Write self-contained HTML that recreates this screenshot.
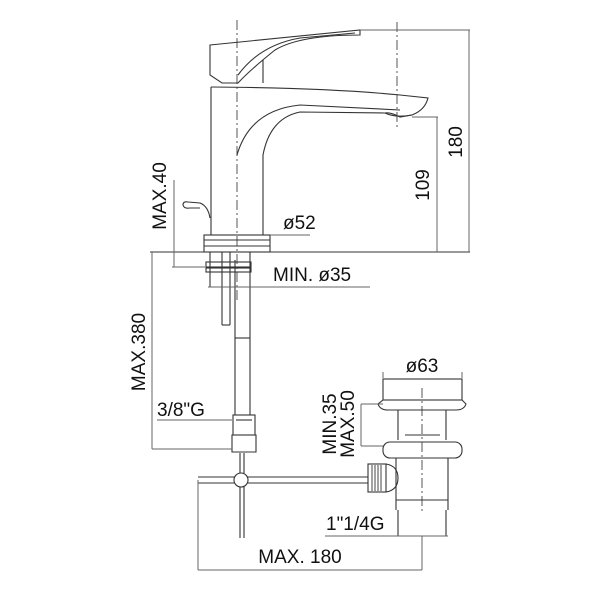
<!DOCTYPE html>
<html><head><style>
html,body{margin:0;padding:0;background:#fff;width:600px;height:600px;overflow:hidden}
svg text{font-family:"Liberation Sans",sans-serif;font-size:19px;fill:#111}
</style></head><body>
<svg width="600" height="600" viewBox="0 0 600 600" xmlns="http://www.w3.org/2000/svg">
<g fill="none" stroke="#333" stroke-width="1.1">
<line x1="237" y1="20" x2="237" y2="300" stroke-dasharray="10,3,2,3" stroke="#666"/>
<line x1="397" y1="22" x2="397" y2="130" stroke-dasharray="10,3,2,3" stroke="#666"/>
<line x1="422" y1="388" x2="422" y2="512" stroke-dasharray="10,3,2,3" stroke="#666"/>
<path d="M210,45 L360,30 L360,35 Q300,35 275,50 Q250,70 238,83 L222,83 L210,75 Z"/>
<path d="M238,75 Q260,45 300,38 L355,33"/>
<path d="M263,83 L263,60"/>
<path d="M211,87 L211,235"/>
<path d="M211,87 Q330,88 400,95 L428,98 Q425,110 412,115 L400,117 Q390,112 385,113 L300,112 Q270,118 263,155 L263,235"/>
<path d="M237,155 Q250,110 300,105 L400,110"/>
<path d="M385,113 Q395,118 412,115"/>
<path d="M183,205 Q183,201 188,202 L200,203 Q208,206 210,218"/>
<path d="M183,205 Q184,209 190,208 L200,208"/>
<rect x="204" y="235" width="66" height="17"/>
<line x1="204" y1="240" x2="270" y2="240"/>
<line x1="204" y1="246" x2="270" y2="246"/>
<line x1="150" y1="252" x2="470" y2="252"/>
<rect x="206" y="262" width="45" height="5"/>
<rect x="206" y="268" width="45" height="4"/>
<line x1="210" y1="252" x2="210" y2="287"/>
<line x1="250" y1="252" x2="250" y2="287"/>
<line x1="222" y1="252" x2="222" y2="325"/>
<line x1="230" y1="252" x2="230" y2="325"/>
<line x1="222" y1="325" x2="230" y2="325"/>
<line x1="235" y1="260" x2="235" y2="415"/>
<line x1="250" y1="287" x2="250" y2="415"/>
<line x1="235" y1="338" x2="250" y2="338"/>
<rect x="233" y="415" width="22" height="20"/>
<path d="M232,435 L256,435 L256,452 L232,452 Z"/>
<line x1="236" y1="420" x2="252" y2="420"/>
<line x1="240" y1="453" x2="240" y2="538"/>
<line x1="244" y1="453" x2="244" y2="538"/>
<line x1="198" y1="477" x2="368" y2="477"/>
<line x1="198" y1="483" x2="368" y2="483"/>
<circle cx="241" cy="480" r="7" fill="#fff"/>
<rect x="383" y="379" width="79" height="21"/>
<path d="M383,400 L378,404 Q380,410 388,410 L456,410 Q464,410 466,404 L462,400"/>
<path d="M398,410 L398,440 M446,410 L446,440"/>
<line x1="405" y1="435" x2="440" y2="435"/>
<rect x="383" y="442" width="79" height="16" rx="7"/>
<path d="M396,458 L396,510 M448,458 L448,510"/>
<line x1="396" y1="500" x2="448" y2="500"/>
<path d="M398,510 L398,536 M446,510 L446,536 L398,536"/>
<rect x="368" y="464" width="18" height="28"/>
<path d="M386,464 Q398,466 398,478 Q398,490 386,492"/>
<g stroke="#555"><line x1="372" y1="465" x2="372" y2="491"/><line x1="375" y1="465" x2="375" y2="491"/><line x1="378" y1="465" x2="378" y2="491"/><line x1="381" y1="465" x2="381" y2="491"/></g>
<g stroke="#666" stroke-width="1">
<line x1="360" y1="30" x2="470" y2="30"/>
<line x1="469" y1="30" x2="469" y2="252"/>
<line x1="412" y1="117" x2="438" y2="117"/>
<line x1="437" y1="117" x2="437" y2="252"/>
<line x1="270" y1="235" x2="310" y2="235"/>
<line x1="174" y1="180" x2="174" y2="267"/>
<line x1="172" y1="267" x2="205" y2="267"/>
<line x1="208" y1="287" x2="370" y2="287"/>
<line x1="152" y1="252" x2="152" y2="449"/>
<line x1="152" y1="449" x2="232" y2="449"/>
<line x1="157" y1="420" x2="232" y2="420"/>
<line x1="361" y1="404" x2="361" y2="446"/>
<line x1="361" y1="404" x2="383" y2="404"/>
<line x1="361" y1="446" x2="383" y2="446"/>
<line x1="383" y1="378" x2="383" y2="372"/>
<line x1="462" y1="378" x2="462" y2="372"/>
<line x1="325" y1="536" x2="448" y2="536"/>
<line x1="198" y1="480" x2="198" y2="570"/>
<line x1="422" y1="536" x2="422" y2="570"/>
<line x1="198" y1="570" x2="422" y2="570"/>
</g>
</g>
<text x="283" y="229">ø52</text>
<text x="273" y="281">MIN. ø35</text>
<text transform="translate(166,196) rotate(-90)" text-anchor="middle">MAX.40</text>
<text transform="translate(429,185) rotate(-90)" text-anchor="middle">109</text>
<text transform="translate(462,142) rotate(-90)" text-anchor="middle">180</text>
<text transform="translate(145,352) rotate(-90)" text-anchor="middle">MAX.380</text>
<text x="157" y="416">3/8"G</text>
<text x="422" y="372" text-anchor="middle">ø63</text>
<text transform="translate(336,424) rotate(-90)" text-anchor="middle">MIN.35</text>
<text transform="translate(354,424) rotate(-90)" text-anchor="middle">MAX.50</text>
<text x="326" y="530">1"1/4G</text>
<text x="300" y="563" text-anchor="middle">MAX. 180</text>
</svg>
</body></html>
